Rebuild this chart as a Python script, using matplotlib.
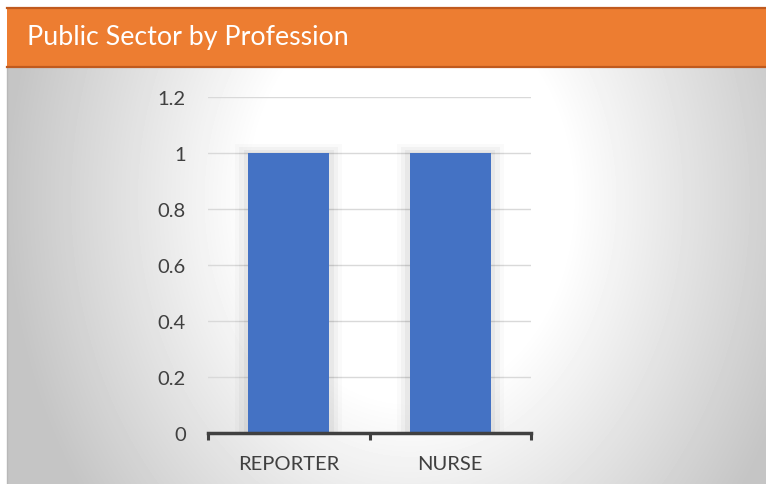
import numpy as np
import matplotlib
matplotlib.use("Agg")
import matplotlib.pyplot as plt
from matplotlib.patches import Rectangle

# data
categories = ["REPORTER", "NURSE"]
values = [1, 1]
y_ticks = [0, 0.2, 0.4, 0.6, 0.8, 1, 1.2]
y_labels = ["0", "0.2", "0.4", "0.6", "0.8", "1", "1.2"]
title = "Public Sector by Profession"

W, H = 766, 485
plt.rcParams["font.family"] = ["Lato", "DejaVu Sans"]

fig = plt.figure(figsize=(W / 100, H / 100), dpi=100, facecolor="white")

# grey panel with soft radial gradient (white in the middle)
panel_top = 69
bg = fig.add_axes([7 / W, 0, (W - 7) / W, (H - panel_top) / H])
xx, yy = np.meshgrid(np.arange(7, W), np.arange(panel_top, H))
d = np.sqrt(((xx - 410) / 160.0) ** 2 + ((yy - 200) / 200.0) ** 2)
shade = np.clip(1 - 0.15 * np.clip(d - 1, 0, None), 0.77, 1)
bg.imshow(shade, cmap="gray", vmin=0, vmax=1, aspect="auto",
          extent=[7, W, H, panel_top], interpolation="bilinear")
bg.set_axis_off()
fig.add_artist(plt.Line2D([6.5 / W, 6.5 / W], [0, (H - panel_top) / H],
                          color="#b8b8b8", lw=1))

# orange header band
fig.add_artist(Rectangle((7 / W, (H - 69) / H), (W - 7) / W, 61 / H,
                         transform=fig.transFigure, facecolor="#ED7D31",
                         edgecolor="none"))
for yb in (8.5, 68):
    fig.add_artist(plt.Line2D([7 / W, 1], [(H - yb) / H] * 2,
                              color="#C05A1E", lw=1.6))
fig.text(27 / W, (H - 38) / H, title, color="white", fontsize=19.3,
         ha="left", va="center")

# chart
ax = fig.add_axes([208 / W, (H - 434) / H, (531 - 208) / W, (434 - 98) / H])
ax.patch.set_alpha(0)
x = np.arange(len(categories))

# faint shadow around the bars
for grow, a in [(0.16, 0.02), (0.11, 0.03), (0.06, 0.04)]:
    ax.bar(x, np.array(values) + grow * 0.2, width=0.5 + grow,
           color="#000000", alpha=a, zorder=1)
ax.bar(x, values, width=0.5, color="#4472C4", zorder=3)

ax.set_xlim(-0.5, len(categories) - 0.5)
ax.set_ylim(0, 1.2)
ax.set_yticks(y_ticks)
ax.set_yticklabels(y_labels)
ax.yaxis.grid(True, color="#d9d9d9", lw=1)
ax.set_axisbelow(True)
ax.tick_params(axis="y", length=0, pad=16, labelsize=14.5, labelcolor="#404040")

ax.set_xticks(x)
ax.set_xticklabels(categories)
ax.set_xticks(np.arange(len(categories) + 1) - 0.5, minor=True)
ax.tick_params(axis="x", which="major", length=0, pad=16, labelsize=14.5,
               labelcolor="#404040")
ax.tick_params(axis="x", which="minor", length=5, width=2.2, color="#404040")

for s in ["top", "right", "left"]:
    ax.spines[s].set_visible(False)
ax.spines["bottom"].set_color("#404040")
ax.spines["bottom"].set_linewidth(2.5)
ax.spines["bottom"].set_zorder(4)

fig.savefig("out.png", dpi=100)
